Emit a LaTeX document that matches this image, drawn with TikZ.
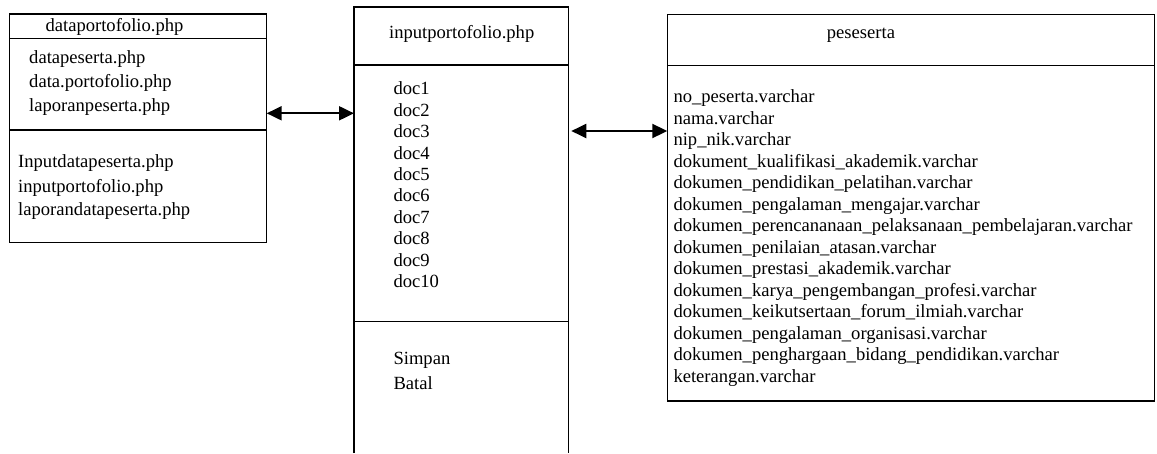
\documentclass[tikz,border=0pt]{standalone}
\usepackage{fontspec}
\setmainfont{Liberation Serif}
\newfontfamily\lserif{Liberation Serif}
\usetikzlibrary{arrows.meta}
\begin{document}
\begin{tikzpicture}[x=1pt,y=-1pt,
  boxline/.style={line width=1.3pt},
  box/.style={draw, boxline, inner sep=0pt, outer sep=0pt},
  shell/.style={inner sep=0pt, outer sep=0pt},
  txt/.style={anchor=west, inner sep=0pt, font=\lserif\fontsize{18.6}{22}\selectfont, text height=0.7em, text depth=0.2em},
  ttl/.style={inner sep=0pt, font=\lserif\fontsize{18.6}{22}\selectfont, text height=0.7em, text depth=0.2em},
  link/.style={{Triangle[length=15pt,width=14pt]}-{Triangle[length=15pt,width=14pt]}, line width=2pt}]
\useasboundingbox (0,0) rectangle (1157,453);
% boxes
\node[box, minimum width=257.4pt, minimum height=228.7pt] (dp) at (138,128.35) {};
\node[shell, minimum width=214.3pt, minimum height=446pt] (ip) at (461.15,230) {};
\draw[boxline] (ip.south west) -- (ip.north west) -- (ip.north east) -- (ip.south east);
\node[box, minimum width=487pt, minimum height=386.7pt] (ps) at (910.8,207.65) {};
% dividers
\draw[boxline] (dp.west |- 0,38.7) -- (dp.east |- 0,38.7);
\draw[boxline] (dp.west |- 0,130) -- (dp.east |- 0,130);
\draw[boxline] (ip.west |- 0,65) -- (ip.east |- 0,65);
\draw[boxline] (ip.west |- 0,321.7) -- (ip.east |- 0,321.7);
\draw[boxline] (ps.west |- 0,65.7) -- (ps.east |- 0,65.7);
% left box texts
\node[ttl] (dpt) at (114.5,29) {dataportofolio.php};
\node[txt] (dp1) at (29,61) {datapeserta.php};
\node[txt] (dp2) at (29,85) {data.portofolio.php};
\node[txt] (dp3) at (29,109) {laporanpeserta.php};
\node[txt] (dp4) at (18,165) {Inputdatapeserta.php};
\node[txt] (dp5) at (18,190) {inputportofolio.php};
\node[txt] (dp6) at (18,213) {laporandatapeserta.php};
% middle box texts
\node[ttl] (ipt) at (461.7,36) {inputportofolio.php};
\foreach \i in {1,...,10} {
  \node[txt] (doc\i) at (393.3,{92.3+21.4*(\i-1)}) {doc\i};
}
\node[txt] (sim) at (393.3,361.7) {Simpan};
\node[txt] (bat) at (393.3,386.7) {Batal};
% right box texts
\node[ttl] (pst) at (861,35.7) {peseserta};
\foreach \t [count=\k from 0] in {no\_peserta.varchar, nama.varchar, nip\_nik.varchar,
  dokument\_kualifikasi\_akademik.varchar, dokumen\_pendidikan\_pelatihan.varchar,
  dokumen\_pengalaman\_mengajar.varchar, dokumen\_perencananaan\_pelaksanaan\_pembelajaran.varchar,
  dokumen\_penilaian\_atasan.varchar, dokumen\_prestasi\_akademik.varchar,
  dokumen\_karya\_pengembangan\_profesi.varchar, dokumen\_keikutsertaan\_forum\_ilmiah.varchar,
  dokumen\_pengalaman\_organisasi.varchar, dokumen\_penghargaan\_bidang\_pendidikan.varchar,
  keterangan.varchar} {
  \node[txt] (at\k) at (673.3,{100+21.54*\k}) {\t};
}
% connectors
\draw[link] (dp.east |- 0,113.3) -- (ip.west |- 0,113.3);
\draw[link, shorten <=3pt] (ip.east |- 0,131) -- (ps.west |- 0,131);
\end{tikzpicture}
\end{document}
